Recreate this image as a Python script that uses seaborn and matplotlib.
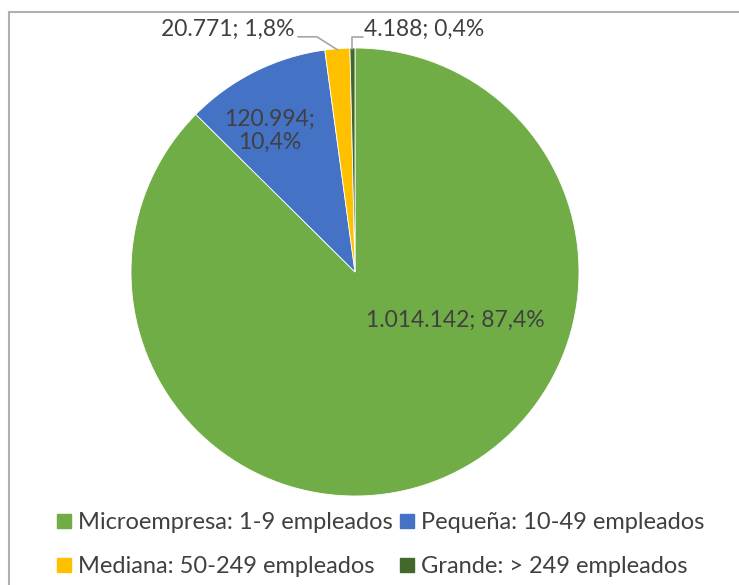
import numpy as np
import matplotlib
matplotlib.use('Agg')
import matplotlib.pyplot as plt
import seaborn as sns
from matplotlib.patches import Rectangle
from matplotlib.lines import Line2D

categorias = ['Microempresa: 1-9 empleados', 'Pequeña: 10-49 empleados',
              'Mediana: 50-249 empleados', 'Grande: > 249 empleados']
empresas = [1014142, 120994, 20771, 4188]
etiquetas = ['1.014.142; 87,4%', '120.994;\n10,4%', '20.771; 1,8%', '4.188; 0,4%']
colores = ['#70AD47', '#4472C4', '#FFC000', '#43682B']

sns.set_theme(style='white')
plt.rcParams['font.family'] = ['Lato', 'DejaVu Sans']
texto = '#404040'

fig = plt.figure(figsize=(7.39, 5.85), dpi=100)
# marco gris del grafico
fig.patches.append(Rectangle((9 / 739, -0.1), 1.1, 1 - 12 / 585 + 0.1, transform=fig.transFigure,
                             fill=False, edgecolor='#B0B0B0', linewidth=1.5))

ax = fig.add_axes([131 / 739, 89 / 585, 448 / 739, 448 / 585])
wedges, _ = ax.pie(empresas, colors=colores, startangle=90, counterclock=False,
                   radius=1, wedgeprops=dict(edgecolor='white', linewidth=0.6))
ax.set_xlim(-1, 1)
ax.set_ylim(-1, 1)
ax.set_aspect('auto')
ax.axis('off')

fs = 16.5
# etiquetas internas
ax.text(0.446, -0.214, etiquetas[0], ha='center', va='center', fontsize=fs, color=texto)
ax.text(-0.38, 0.63, etiquetas[1], ha='center', va='center', fontsize=fs, color=texto,
        linespacing=1.15)

# etiquetas externas con lineas guia
def punto_medio(w):
    ang = np.deg2rad((w.theta1 + w.theta2) / 2)
    return np.cos(ang) * 0.995, np.sin(ang) * 0.995

xm, ym = punto_medio(wedges[2])
ax.text(-0.27, 1.085, etiquetas[2], ha='right', va='center', fontsize=fs, color=texto, clip_on=False)
ax.add_line(Line2D([-0.255, -0.17, xm], [1.05, 1.05, ym], color='#A6A6A6', lw=1.2, clip_on=False))

xg, yg = punto_medio(wedges[3])
ax.text(0.04, 1.085, etiquetas[3], ha='left', va='center', fontsize=fs, color=texto, clip_on=False)
ax.add_line(Line2D([0.035, xg, xg], [1.05, 1.05, yg], color='#A6A6A6', lw=1.2, clip_on=False))

# leyenda en dos filas (orden por filas)
handles = [Line2D([], [], marker='s', linestyle='', markersize=10, color=c) for c in colores]
orden = [0, 2, 1, 3]
fig.legend([handles[i] for i in orden], [categorias[i] for i in orden],
           loc='lower left', bbox_to_anchor=(40 / 739, -9 / 585), ncol=2,
           frameon=False, fontsize=17, labelcolor=texto, handlelength=0.6, handletextpad=0.3,
           columnspacing=0.3, labelspacing=1.0, borderaxespad=0.3)

fig.savefig('out.png', dpi=100)
